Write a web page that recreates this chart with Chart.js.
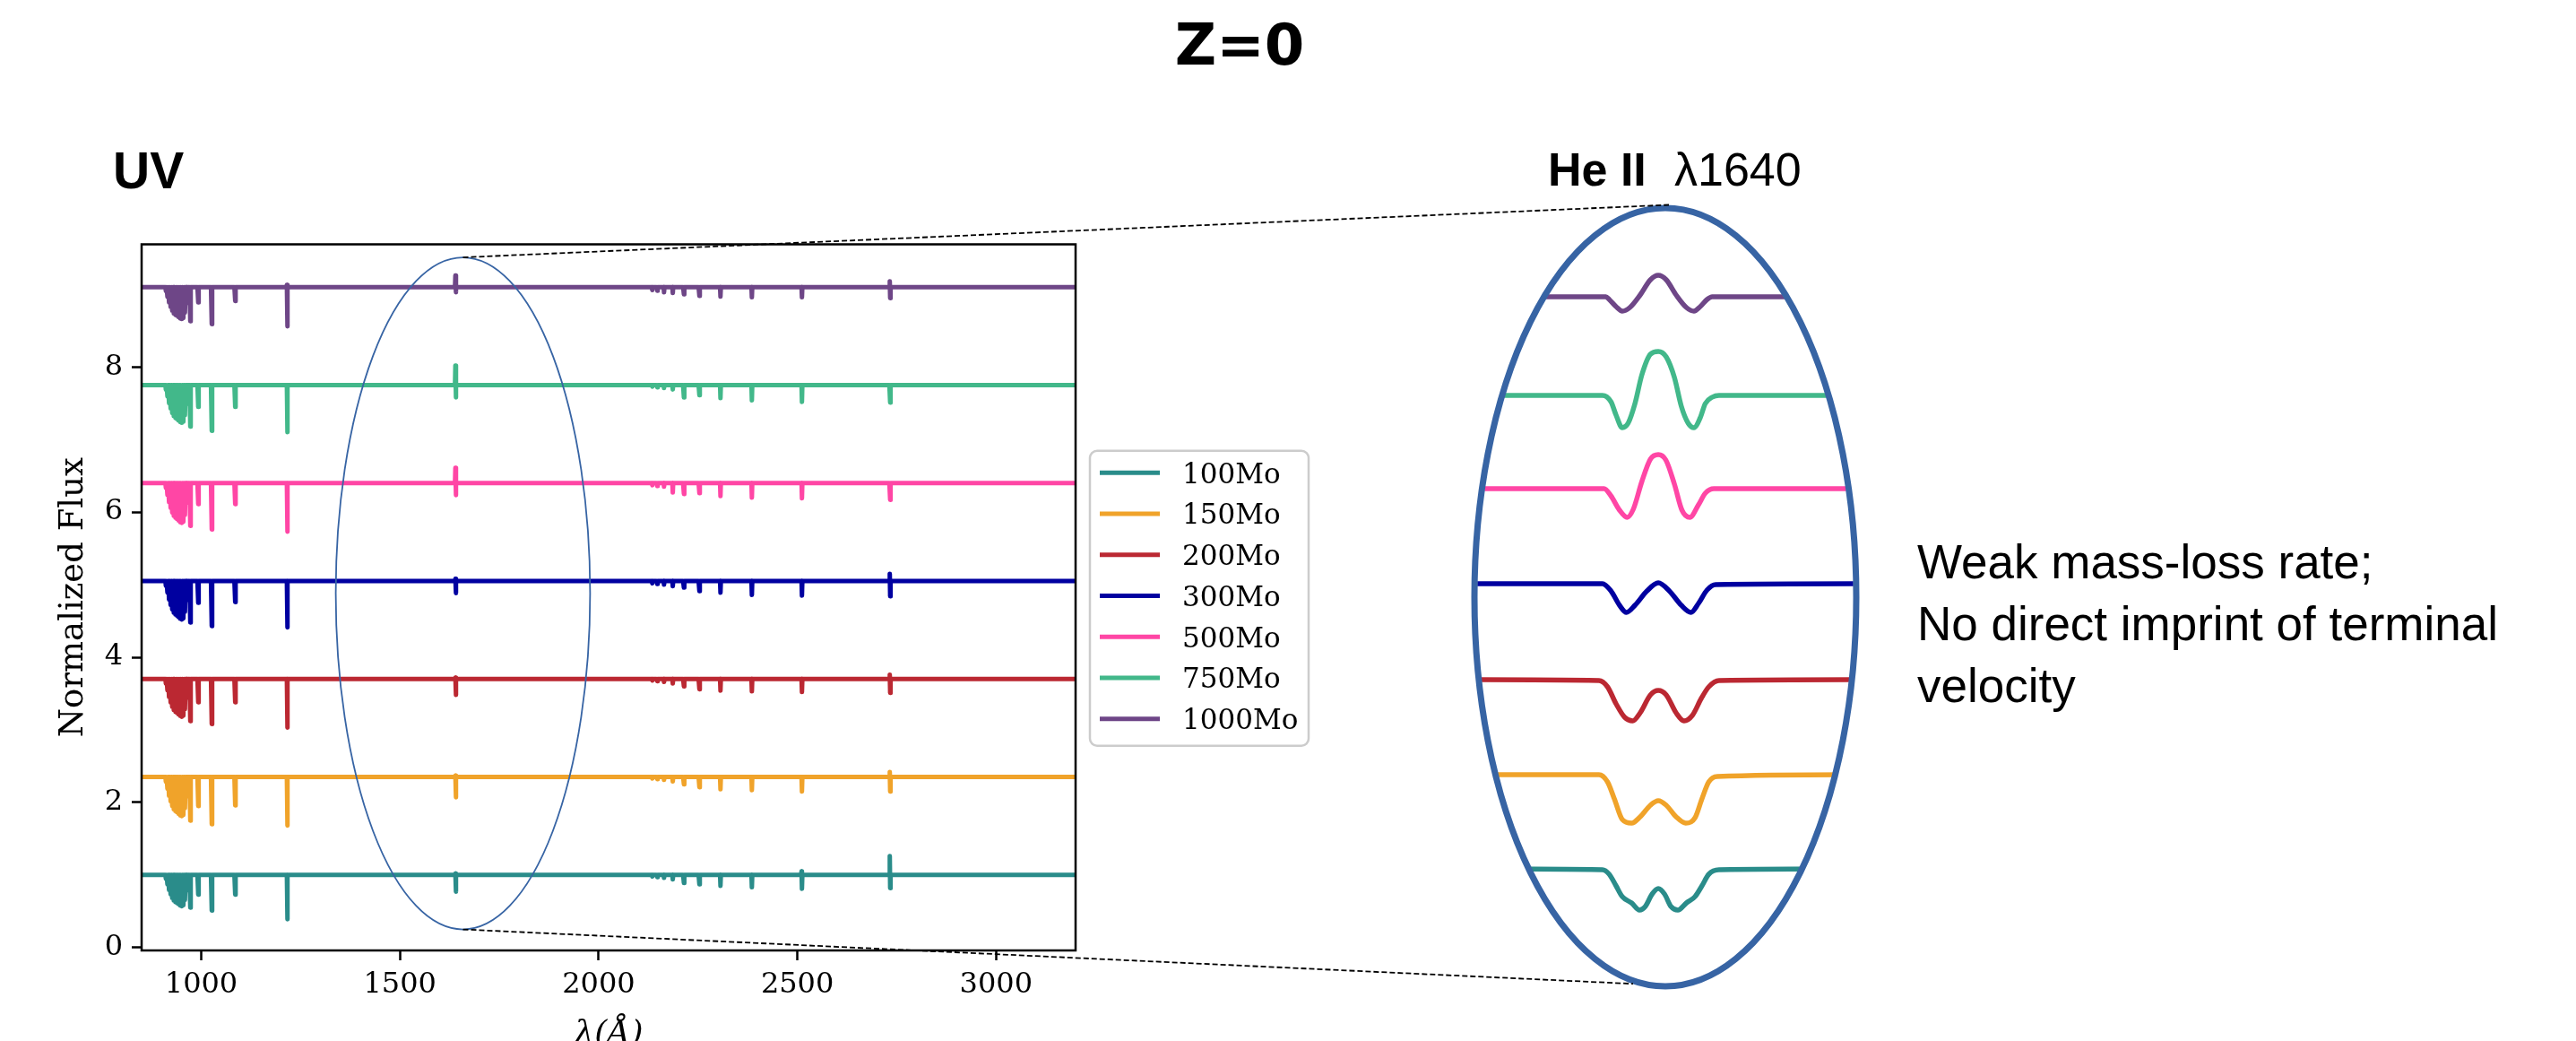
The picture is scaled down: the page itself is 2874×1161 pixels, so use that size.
<!DOCTYPE html>
<html>
<head>
<meta charset="utf-8">
<script src="https://cdn.jsdelivr.net/npm/chart.js@4.4.1/dist/chart.umd.min.js"></script>
<style>
  html, body { margin: 0; padding: 0; background: #fff; }
  #wrap { position: relative; width: 2874px; height: 1161px; overflow: hidden; background: #fff; }
  canvas, svg { position: absolute; left: 0; top: 0; }
</style>
</head>
<body>
<div id="wrap">
  <canvas id="uv" width="2874" height="1161"></canvas>
  <canvas id="heii" width="2874" height="1161"></canvas>
  <svg id="txt" width="2874" height="1161" xmlns="http://www.w3.org/2000/svg">
    <text x="1383" y="72" text-anchor="middle" font-family="DejaVu Sans" font-weight="bold" font-size="64">Z=0</text>
    <text x="126" y="210" font-family="Liberation Sans" font-weight="bold" font-size="57">UV</text>
    <text x="1727" y="207" font-family="Liberation Sans" font-weight="bold" font-size="52">He II</text>
    <text x="1868" y="207" font-family="Liberation Sans" font-size="52">λ1640</text>
    <text font-family="Liberation Sans" font-size="53">
      <tspan x="2139" y="645">Weak mass-loss rate;</tspan>
      <tspan x="2139" y="714">No direct imprint of terminal</tspan>
      <tspan x="2139" y="783">velocity</tspan>
    </text>
    <g id="legend"></g>
  </svg>
</div>
<script>
// ---- UV panel ----
const lamMin = 850, lamMax = 3200;
const fluxMin = -0.04, fluxMax = 9.69;
const xTickValues = [1000, 1500, 2000, 2500, 3000];
const yTickValues = [0, 2, 4, 6, 8];

const masses = ['100Mo', '150Mo', '200Mo', '300Mo', '500Mo', '750Mo', '1000Mo'];
const colors = ['#2a8c8a', '#f0a32a', '#bb2832', '#0000a0', '#ff46a5', '#42b88a', '#6e4687'];
const offsets = [1.0, 2.35, 3.7, 5.05, 6.4, 7.75, 9.1];

// Lyman forest below 965 A: wavelengths and relative depth
const forestWave  = [910, 911, 913, 915, 917, 919, 921, 923, 925, 927, 929, 931, 933, 935, 937, 939, 941, 943, 945, 947, 949, 951, 953, 955, 957, 959, 961, 962, 963.5];
const forestShape = [0, 0.12, 0, 0.3, 0, 0.48, 0, 0.62, 0, 0.74, 0, 0.82, 0, 0.87, 0, 0.9, 0, 0.94, 0, 0.98, 0, 1.0, 0, 0.97, 0, 0.8, 0, 0.5, 0];
const forestDepth = [0.43, 0.54, 0.52, 0.53, 0.55, 0.52, 0.44];

// individual lines (absorption depth below / emission above continuum)
const lineWave = [972, 992, 1026, 1085, 1216, 1640, 2134, 2147, 2164, 2186, 2214, 2253, 2306, 2385, 2511, 2733];
const depth100  = [0.45, 0.27, 0.49, 0.27, 0.61, 0.23, 0.02, 0.03, 0.04, 0.06, 0.11, 0.13, 0.15, 0.17, 0.19, 0.18];
const depth150  = [0.60, 0.40, 0.65, 0.39, 0.67, 0.28, 0.02, 0.03, 0.04, 0.06, 0.10, 0.14, 0.17, 0.18, 0.20, 0.20];
const depth200  = [0.58, 0.32, 0.62, 0.32, 0.67, 0.22, 0.02, 0.03, 0.04, 0.06, 0.10, 0.14, 0.16, 0.17, 0.18, 0.19];
const depth300  = [0.57, 0.30, 0.62, 0.29, 0.64, 0.165, 0.03, 0.04, 0.05, 0.07, 0.09, 0.14, 0.16, 0.19, 0.20, 0.21];
const depth500  = [0.59, 0.29, 0.64, 0.29, 0.67, 0.165, 0.03, 0.04, 0.05, 0.13, 0.15, 0.14, 0.18, 0.20, 0.21, 0.23];
const depth750  = [0.57, 0.30, 0.63, 0.30, 0.65, 0.17, 0.02, 0.03, 0.04, 0.06, 0.17, 0.14, 0.18, 0.21, 0.23, 0.24];
const depth1000 = [0.47, 0.21, 0.51, 0.19, 0.54, 0.07, 0.04, 0.05, 0.07, 0.08, 0.10, 0.12, 0.13, 0.14, 0.14, 0.15];
const emis100  = [0, 0, 0, 0, 0, 0.02, 0, 0, 0, 0, 0, 0, 0, 0, 0.05, 0.26];
const emis150  = [0, 0, 0, 0, 0, 0.02, 0, 0, 0, 0, 0, 0, 0, 0, 0, 0.07];
const emis200  = [0, 0, 0, 0, 0, 0.02, 0, 0, 0, 0, 0, 0, 0, 0, 0, 0.06];
const emis300  = [0, 0, 0, 0, 0, 0.03, 0, 0, 0, 0, 0, 0, 0, 0, 0, 0.10];
const emis500  = [0, 0, 0, 0, 0, 0.21, 0, 0, 0, 0, 0, 0, 0, 0, 0, 0];
const emis750  = [0, 0, 0, 0, 0, 0.27, 0, 0, 0, 0, 0, 0, 0, 0, 0, 0];
const emis1000 = [0, 0, 0, 0, 0.03, 0.16, 0, 0, 0, 0, 0, 0, 0, 0, 0, 0.08];
const depths = [depth100, depth150, depth200, depth300, depth500, depth750, depth1000];
const emissions = [emis100, emis150, emis200, emis300, emis500, emis750, emis1000];

// zoom ellipse around He II 1640 (data units)
const zoomBox = { cx: 1658.5, cy: 4.88, rx: 320, ry: 4.63 };

// ---- He II 1640 inset ----
const heWave100  = [1620, 1633.41, 1634.12, 1634.84, 1635.49, 1636.46, 1637.29, 1637.90, 1638.62, 1639.26, 1639.91, 1640.59, 1641.31, 1642.21, 1643.11, 1643.83, 1644.55, 1645.62, 1660];
const heFlux100  = [1.31, 1.30, 1.25, 1.12, 1.00, 0.93, 0.85, 0.89, 1.03, 1.09, 1.03, 0.89, 0.85, 0.93, 1.00, 1.12, 1.25, 1.30, 1.31];
const heWave150  = [1620, 1633.05, 1633.94, 1634.66, 1635.49, 1636.46, 1637.36, 1638.44, 1639.26, 1640.09, 1641.13, 1642.14, 1643.11, 1643.83, 1644.55, 1645.44, 1660];
const heFlux150  = [2.36, 2.36, 2.28, 2.09, 1.86, 1.82, 1.89, 2.02, 2.07, 2.02, 1.89, 1.82, 1.88, 2.09, 2.28, 2.34, 2.36];
const heWave200  = [1620, 1633.05, 1633.94, 1634.84, 1635.74, 1636.57, 1637.36, 1638.44, 1639.26, 1640.09, 1641.13, 1641.96, 1642.82, 1643.76, 1644.55, 1645.62, 1660];
const heFlux200  = [3.42, 3.41, 3.34, 3.15, 3.00, 2.96, 3.05, 3.25, 3.30, 3.25, 3.05, 2.96, 3.02, 3.21, 3.34, 3.41, 3.42];
const heWave300  = [1620, 1633.41, 1634.30, 1635.20, 1635.92, 1636.82, 1638.08, 1639.26, 1640.41, 1641.67, 1642.68, 1643.47, 1644.37, 1645.27, 1660];
const heFlux300  = [4.49, 4.49, 4.41, 4.25, 4.17, 4.25, 4.41, 4.50, 4.41, 4.25, 4.17, 4.27, 4.42, 4.48, 4.49];
const heWave500  = [1620, 1633.58, 1634.30, 1635.20, 1635.99, 1636.64, 1637.54, 1638.44, 1639.26, 1640.05, 1640.95, 1641.74, 1642.57, 1643.47, 1644.19, 1645.09, 1660];
const heFlux500  = [5.55, 5.55, 5.47, 5.31, 5.23, 5.32, 5.63, 5.88, 5.93, 5.87, 5.60, 5.31, 5.23, 5.37, 5.50, 5.55, 5.55];
const heWave750  = [1620, 1633.41, 1634.30, 1634.84, 1635.49, 1636.10, 1636.82, 1637.54, 1638.44, 1639.26, 1640.09, 1640.95, 1641.67, 1642.39, 1643.00, 1643.65, 1644.19, 1644.91, 1645.62, 1660];
const heFlux750  = [6.59, 6.59, 6.52, 6.37, 6.23, 6.28, 6.50, 6.82, 7.05, 7.08, 7.02, 6.79, 6.47, 6.28, 6.23, 6.34, 6.50, 6.57, 6.59, 6.59];
const heWave1000 = [1620, 1633.76, 1634.12, 1634.84, 1635.49, 1636.28, 1637.36, 1638.44, 1639.26, 1640.09, 1641.13, 1642.21, 1643.00, 1643.65, 1644.37, 1644.91, 1660];
const heFlux1000 = [7.69, 7.69, 7.66, 7.58, 7.53, 7.57, 7.71, 7.88, 7.93, 7.88, 7.71, 7.57, 7.53, 7.58, 7.66, 7.69, 7.69];
const heWaves = [heWave100, heWave150, heWave200, heWave300, heWave500, heWave750, heWave1000];
const heFluxes = [heFlux100, heFlux150, heFlux200, heFlux300, heFlux500, heFlux750, heFlux1000];

const ellipseColor = '#3764a4';

function spectrum(i) {
  const base = offsets[i];
  const pts = [{ x: lamMin, y: base }];
  forestWave.forEach((w, k) => pts.push({ x: w, y: base - forestDepth[i] * forestShape[k] }));
  lineWave.forEach((w, k) => {
    pts.push({ x: w - 1.5, y: base });
    pts.push({ x: w - 0.5, y: base + emissions[i][k] });
    pts.push({ x: w + 0.5, y: base - depths[i][k] });
    pts.push({ x: w + 1.5, y: base });
  });
  pts.push({ x: lamMax, y: base });
  return pts;
}

const serif = 'DejaVu Serif';

const uvFrame = {
  id: 'uvFrame',
  afterDatasetsDraw(chart) {
    const { ctx, chartArea: a, scales: { x, y } } = chart;
    ctx.save();
    const cx = x.getPixelForValue(zoomBox.cx), cy = y.getPixelForValue(zoomBox.cy);
    const rx = x.getPixelForValue(zoomBox.cx + zoomBox.rx) - cx;
    const ry = cy - y.getPixelForValue(zoomBox.cy + zoomBox.ry);
    ctx.beginPath();
    ctx.ellipse(cx, cy, rx, ry, 0, 0, 2 * Math.PI);
    ctx.strokeStyle = ellipseColor;
    ctx.lineWidth = 1.8;
    ctx.stroke();
    ctx.strokeStyle = '#000';
    ctx.lineWidth = 2.5;
    ctx.strokeRect(a.left, a.top, a.right - a.left, a.bottom - a.top);
    ctx.restore();
  }
};

const uvChart = new Chart(document.getElementById('uv'), {
  type: 'line',
  data: {
    datasets: masses.map((m, i) => ({
      label: m,
      data: spectrum(i),
      borderColor: colors[i],
      borderWidth: 5,
      pointRadius: 0,
      tension: 0,
      fill: false,
      clip: 0,
      borderCapStyle: 'round',
      borderJoinStyle: 'round'
    }))
  },
  options: {
    responsive: false,
    animation: false,
    events: [],
    layout: { padding: { left: 0, top: 272.5, right: 1674, bottom: 0 } },
    plugins: { legend: { display: false }, tooltip: { enabled: false } },
    scales: {
      x: {
        type: 'linear',
        min: lamMin,
        max: lamMax,
        afterFit: s => { s.height = 101; },
        afterBuildTicks: s => { s.ticks = xTickValues.map(v => ({ value: v })); },
        ticks: { color: '#000', font: { family: serif, size: 32 }, padding: 8, maxRotation: 0, callback: v => String(v) },
        grid: { drawOnChartArea: false, tickLength: 11, tickWidth: 2.5, tickColor: '#000' },
        border: { display: false },
        title: {
          display: true, text: 'λ(Å)', color: '#000',
          font: { family: serif, size: 36, style: 'italic' },
          padding: { top: 0, bottom: -14 }
        }
      },
      y: {
        min: fluxMin,
        max: fluxMax,
        afterFit: s => { s.width = 158; },
        afterBuildTicks: s => { s.ticks = yTickValues.map(v => ({ value: v })); },
        ticks: { color: '#000', font: { family: serif, size: 32 }, padding: 10, callback: v => String(v) },
        grid: { drawOnChartArea: false, tickLength: 11, tickWidth: 2.5, tickColor: '#000' },
        border: { display: false },
        title: {
          display: true, text: 'Normalized Flux', color: '#000',
          font: { family: serif, size: 37 },
          padding: { top: 60, bottom: 0 }
        }
      }
    }
  },
  plugins: [uvFrame]
});

const heFrame = {
  id: 'heFrame',
  beforeDatasetsDraw(chart) {
    const { ctx, chartArea: a } = chart;
    ctx.save();
    ctx.beginPath();
    ctx.ellipse((a.left + a.right) / 2, (a.top + a.bottom) / 2,
      (a.right - a.left) / 2 - 3, (a.bottom - a.top) / 2 - 3, 0, 0, 2 * Math.PI);
    ctx.clip();
  },
  afterDatasetsDraw(chart) {
    const { ctx, chartArea: a } = chart;
    ctx.restore();
    const cx = (a.left + a.right) / 2, cy = (a.top + a.bottom) / 2;
    const rx = (a.right - a.left) / 2, ry = (a.bottom - a.top) / 2;
    ctx.save();
    ctx.beginPath();
    ctx.ellipse(cx, cy, rx, ry, 0, 0, 2 * Math.PI);
    ctx.strokeStyle = ellipseColor;
    ctx.lineWidth = 7;
    ctx.stroke();

    // dashed connectors from the small ellipse in the UV panel
    const ux = uvChart.scales.x, uy = uvChart.scales.y;
    const sx = ux.getPixelForValue(zoomBox.cx);
    const sTop = uy.getPixelForValue(zoomBox.cy + zoomBox.ry);
    const sBot = uy.getPixelForValue(zoomBox.cy - zoomBox.ry);
    const tBot = Math.acos(-0.169);
    ctx.setLineDash([6, 3]);
    ctx.strokeStyle = '#000';
    ctx.lineWidth = 1.8;
    ctx.beginPath();
    ctx.moveTo(sx, sTop);
    ctx.lineTo(cx + 4, cy - ry - 3.5);
    ctx.moveTo(sx, sBot);
    ctx.lineTo(cx + rx * Math.cos(tBot), cy + (ry + 3.5) * Math.sin(tBot));
    ctx.stroke();
    ctx.restore();
  }
};

new Chart(document.getElementById('heii'), {
  type: 'line',
  data: {
    datasets: masses.map((m, i) => ({
      label: m,
      data: heWaves[i].map((w, k) => ({ x: w, y: heFluxes[i][k] })),
      borderColor: colors[i],
      borderWidth: 5.5,
      pointRadius: 0,
      fill: false,
      cubicInterpolationMode: 'monotone',
      borderCapStyle: 'round',
      borderJoinStyle: 'round'
    }))
  },
  options: {
    responsive: false,
    animation: false,
    events: [],
    layout: { padding: { left: 1645, right: 803, top: 232, bottom: 61 } },
    plugins: { legend: { display: false }, tooltip: { enabled: false } },
    scales: {
      x: { type: 'linear', display: false, min: 1620, max: 1660 },
      y: { display: false, min: 0, max: 8.68 }
    }
  },
  plugins: [heFrame]
});

// legend (matplotlib style box next to the UV panel)
const NS = 'http://www.w3.org/2000/svg';
const lg = document.getElementById('legend');
function svgEl(tag, attrs, text) {
  const e = document.createElementNS(NS, tag);
  for (const k in attrs) e.setAttribute(k, attrs[k]);
  if (text) e.textContent = text;
  lg.appendChild(e);
}
svgEl('rect', { x: 1216, y: 502.7, width: 244, height: 329, rx: 8, fill: '#fff', stroke: '#cccccc', 'stroke-width': 2.5 });
masses.forEach((m, i) => {
  const yy = 527.3 + i * 45.73;
  svgEl('line', { x1: 1227, x2: 1294, y1: yy, y2: yy, stroke: colors[i], 'stroke-width': 5 });
  svgEl('text', { x: 1319, y: yy + 11.3, 'font-family': serif, 'font-size': 31 }, m);
});
</script>
</body>
</html>
